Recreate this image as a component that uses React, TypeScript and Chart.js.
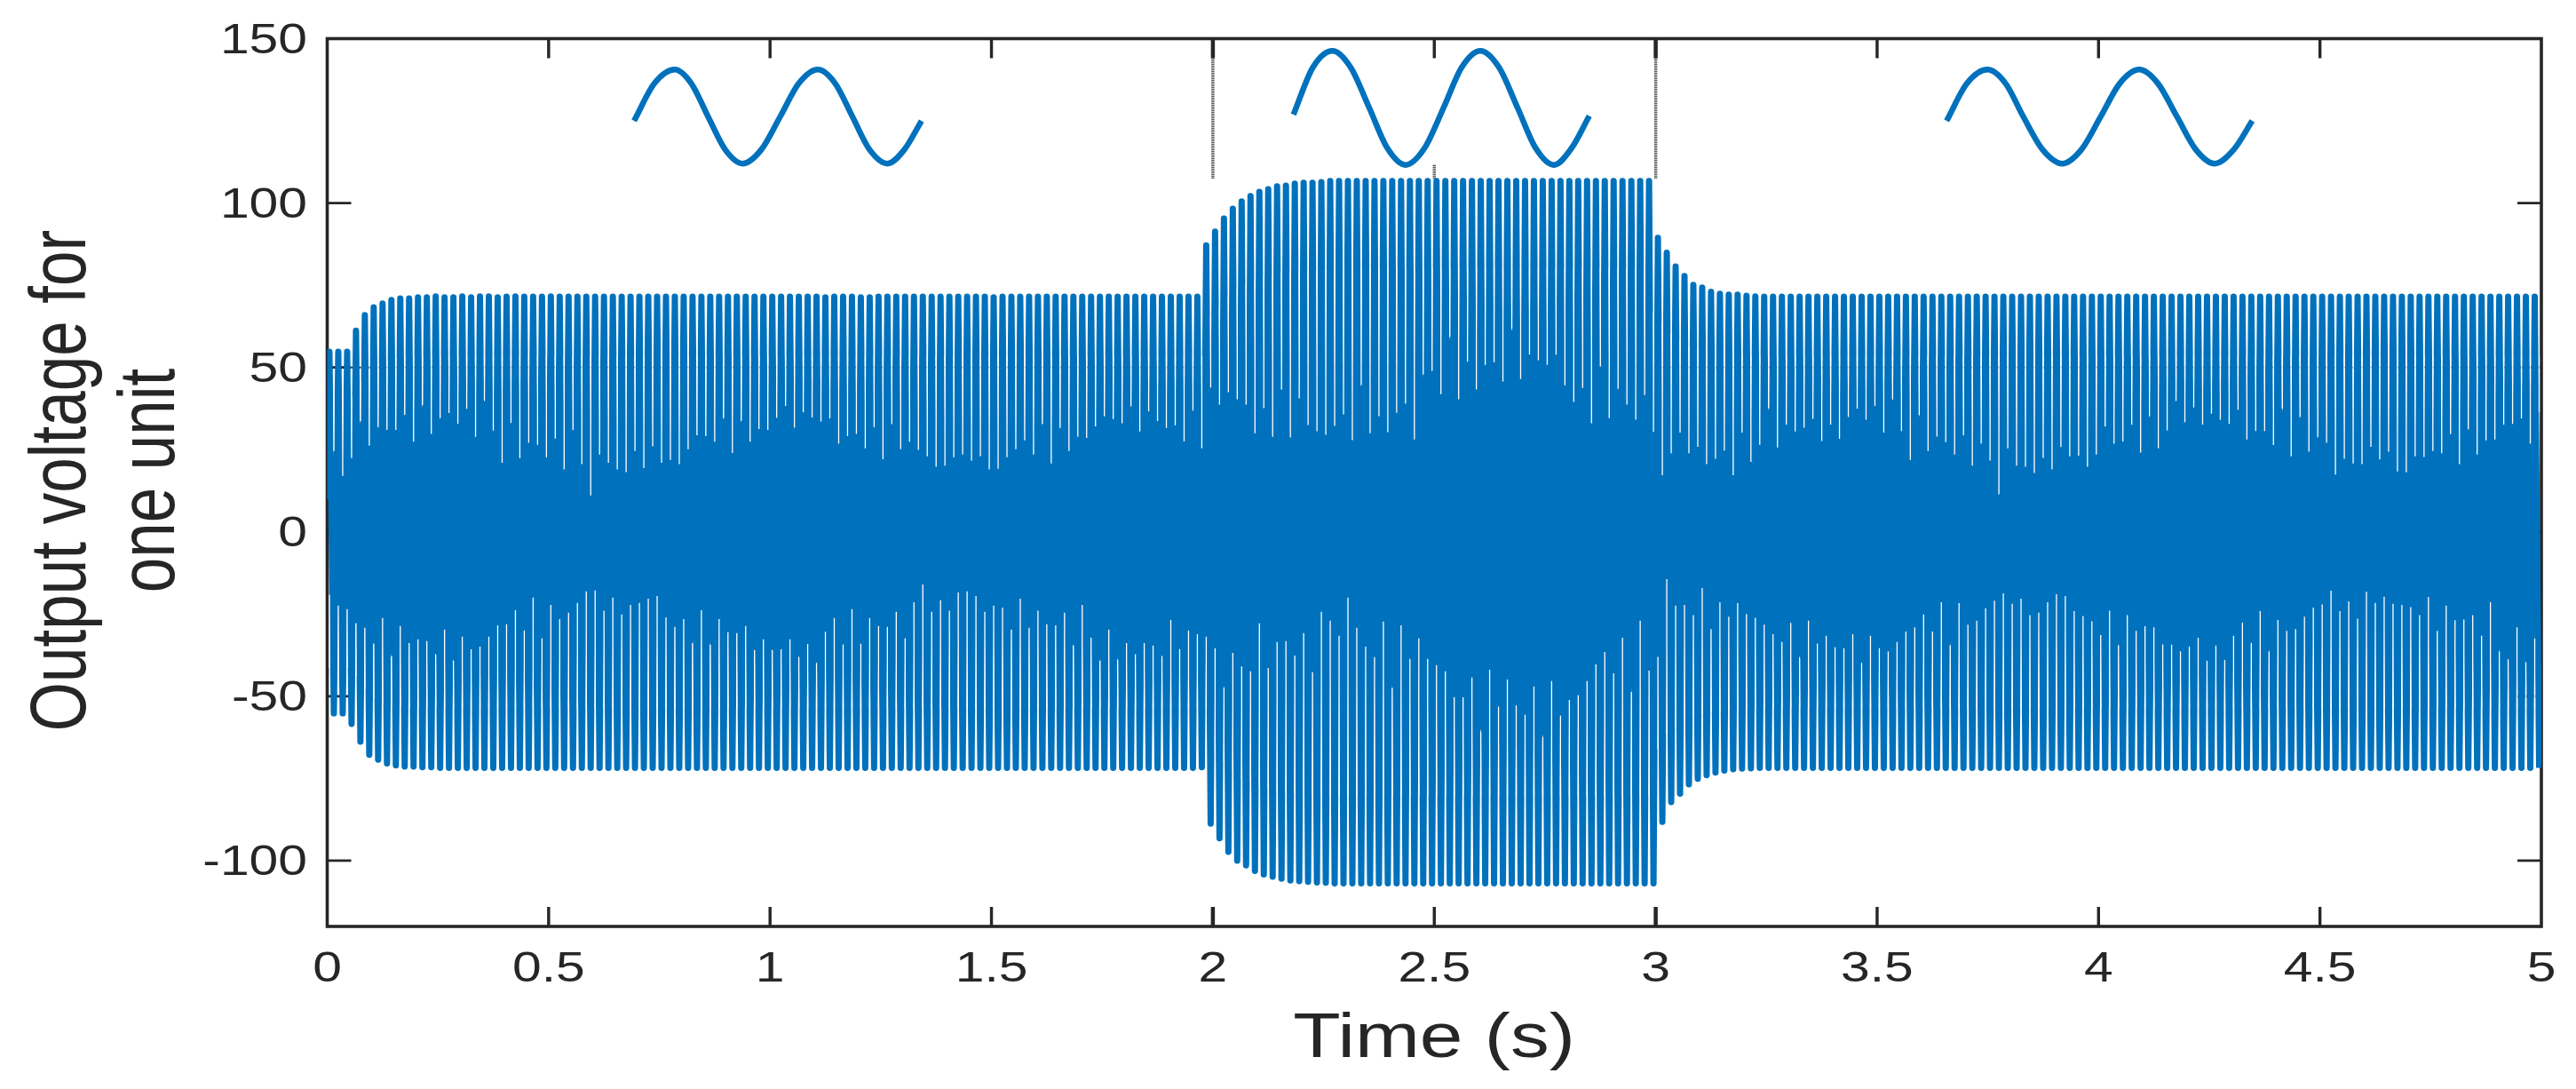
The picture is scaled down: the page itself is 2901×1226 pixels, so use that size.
import { Chart, registerables, Plugin } from 'chart.js'
import React, { useEffect, useRef } from 'react'

Chart.register(...registerables)

// tick positions and labels
const xTicks = [0, 0.5, 1, 1.5, 2, 2.5, 3, 3.5, 4, 4.5, 5]
const xTickLabels = ['0', '0.5', '1', '1.5', '2', '2.5', '3', '3.5', '4', '4.5', '5']
const yTicks = [150, 100, 50, 0, -50, -100]
const yTickLabels = ['150', '100', '50', '0', '-50', '-100']
const xTitle = 'Time (s)'
const yTitleLines = ['Output voltage for', 'one unit']

// one value per 50 Hz cycle
const firstPeakTime = 0.005
const halfCycle = 0.01

const upperPeaks = [
  54.8, 54.8, 54.8, 61.2, 65.9, 68.3, 69.4, 70.5, 71, 71,
  71.3, 71.3, 71.6, 71.3, 71.3, 71.6, 71.3, 71.6, 71.6, 71.3,
  71.5, 71.6, 71.5, 71.5, 71.5, 71.6, 71.5, 71.5, 71.5, 71.5,
  71.5, 71.5, 71.5, 71.5, 71.5, 71.5, 71.5, 71.5, 71.5, 71.5,
  71.5, 71.5, 71.5, 71.5, 71.5, 71.5, 71.5, 71.5, 71.5, 71.5,
  71.5, 71.5, 71.5, 71.5, 71.5, 71.5, 71.3, 71.5, 71.5, 71.5,
  71.3, 71.3, 71.5, 71.5, 71.5, 71.5, 71.5, 71.5, 71.5, 71.5,
  71.5, 71.5, 71.5, 71.5, 71.5, 71.3, 71.5, 71.5, 71.5, 71.5,
  71.5, 71.5, 71.5, 71.5, 71.5, 71.5, 71.5, 71.5, 71.5, 71.5,
  71.5, 71.5, 71.5, 71.5, 71.5, 71.5, 71.5, 71.5, 71.5, 87.1,
  91.3, 95.3, 98.3, 100.5, 102.1, 103.4, 104.2, 105.1, 105.3, 105.9,
  106.2, 106.2, 106.4, 106.7, 106.7, 106.7, 106.7, 106.7, 106.7, 106.7,
  106.7, 106.7, 106.7, 106.7, 106.7, 106.7, 106.7, 106.7, 106.7, 106.7,
  106.7, 106.7, 106.7, 106.7, 106.7, 106.7, 106.7, 106.7, 106.7, 106.7,
  106.7, 106.7, 106.7, 106.7, 106.7, 106.7, 106.7, 106.7, 106.7, 106.7,
  89.4, 84.9, 80.7, 77.8, 75.1, 74.3, 73, 72.4, 72.1, 72.1,
  71.8, 71.6, 71.5, 71.5, 71.5, 71.5, 71.5, 71.5, 71.5, 71.5,
  71.5, 71.5, 71.5, 71.5, 71.5, 71.5, 71.5, 71.5, 71.5, 71.5,
  71.5, 71.5, 71.5, 71.5, 71.5, 71.5, 71.5, 71.5, 71.5, 71.5,
  71.5, 71.5, 71.5, 71.5, 71.5, 71.5, 71.5, 71.5, 71.5, 71.5,
  71.5, 71.5, 71.5, 71.5, 71.5, 71.5, 71.5, 71.5, 71.5, 71.5,
  71.5, 71.5, 71.5, 71.5, 71.5, 71.5, 71.5, 71.5, 71.5, 71.5,
  71.5, 71.5, 71.5, 71.5, 71.5, 71.5, 71.5, 71.5, 71.5, 71.5,
  71.5, 71.5, 71.5, 71.5, 71.5, 71.5, 71.5, 71.5, 71.5, 71.5,
  71.5, 71.5, 71.5, 71.5, 71.5, 71.5, 71.5, 71.5, 71.5, 71.5,
]

const lowerPeaks = [
  -55.2, -55.2, -58.4, -63.8, -67.8, -69.3, -70.4, -71, -71.4, -71.4,
  -71.6, -71.6, -71.8, -71.8, -71.8, -71.8, -71.8, -71.8, -71.8, -71.8,
  -71.8, -71.8, -71.8, -71.8, -71.8, -71.8, -71.8, -71.8, -71.8, -71.8,
  -71.8, -71.8, -71.8, -71.8, -71.8, -71.8, -71.8, -71.8, -71.8, -71.8,
  -71.8, -71.8, -71.8, -71.8, -71.8, -71.8, -71.8, -71.8, -71.8, -71.8,
  -71.8, -71.8, -71.8, -71.8, -71.8, -71.8, -71.8, -71.8, -71.8, -71.8,
  -71.8, -71.8, -71.8, -71.8, -71.8, -71.8, -71.8, -71.8, -71.8, -71.8,
  -71.8, -71.8, -71.8, -71.8, -71.8, -71.8, -71.8, -71.8, -71.8, -71.8,
  -71.8, -71.8, -71.8, -71.8, -71.8, -71.8, -71.8, -71.8, -71.8, -71.8,
  -71.8, -71.8, -71.8, -71.8, -71.8, -71.8, -71.8, -71.8, -71.6, -88.7,
  -93.2, -97.3, -100, -101.4, -103.1, -104.2, -104.9, -105.5, -106, -106.2,
  -106.4, -106.6, -106.7, -106.9, -106.9, -106.9, -106.9, -106.9, -106.9, -106.9,
  -106.9, -106.9, -106.9, -106.9, -106.9, -106.9, -106.9, -106.9, -106.9, -106.9,
  -106.9, -106.9, -106.9, -106.9, -106.9, -106.9, -106.9, -106.9, -106.9, -106.9,
  -106.9, -106.9, -106.9, -106.9, -106.9, -106.9, -106.9, -106.9, -106.9, -106.9,
  -88.2, -82.2, -79.6, -76.8, -75.1, -74, -73.2, -72.6, -72.2, -72,
  -71.9, -71.8, -71.8, -71.8, -71.8, -71.8, -71.8, -71.8, -71.8, -71.8,
  -71.8, -71.8, -71.8, -71.8, -71.8, -71.8, -71.8, -71.8, -71.8, -71.8,
  -71.8, -71.8, -71.8, -71.8, -71.8, -71.8, -71.8, -71.8, -71.8, -71.8,
  -71.8, -71.8, -71.8, -71.8, -71.8, -71.8, -71.8, -71.8, -71.8, -71.8,
  -71.8, -71.8, -71.8, -71.8, -71.8, -71.8, -71.8, -71.8, -71.8, -71.8,
  -71.8, -71.8, -71.8, -71.8, -71.8, -71.8, -71.8, -71.8, -71.8, -71.8,
  -71.8, -71.8, -71.8, -71.8, -71.8, -71.8, -71.8, -71.8, -71.8, -71.8,
  -71.8, -71.8, -71.8, -71.8, -71.8, -71.8, -71.8, -71.8, -71.8, -71.8,
  -71.8, -71.8, -71.8, -71.8, -71.8, -71.8, -71.8, -71.8, -71.8, -71.8,
]

// where the waveform's inner edge sits between neighbouring peaks
const upperInner = [
  24.6, 17, 22.4, 33.7, 26.2, 31.9, 31, 31, 35.6, 27.4,
  38.6, 29.8, 34.6, 36.2, 32.8, 37.5, 28.9, 40, 30.8, 21,
  33.2, 22.4, 27.1, 26.5, 22.6, 28.4, 19, 31, 20.6, 11.1,
  23.5, 21, 19, 18.2, 24.6, 19.4, 26, 21, 21.9, 20.6,
  25.1, 29.4, 29.1, 27.4, 34.6, 24, 33.8, 27.4, 31.3, 31,
  34.7, 38.4, 31.7, 36.4, 34.8, 33.6, 34.6, 26.8, 29.1, 29.8,
  25.4, 31.9, 22.1, 32.8, 25.1, 27.4, 24.9, 23, 19.8, 20.1,
  22.7, 23.5, 21.7, 23, 19, 19.2, 22.7, 25.1, 27.8, 23.5,
  32.8, 20.8, 31.6, 24.6, 28.9, 28.6, 32.1, 35.2, 34.3, 33,
  38.2, 30.5, 36.7, 33.7, 31.6, 32.4, 27.5, 37, 25.4, 44,
  38.7, 42.5, 40.3, 38.7, 30, 37.6, 28.9, 43.3, 28.7, 40.6,
  32.5, 30.6, 29.5, 32.2, 35.7, 27.9, 44.6, 30, 35.2, 30.3,
  36.2, 39, 28.1, 47.9, 49, 41.9, 59.4, 40.3, 51.9, 43.3,
  50.8, 51.6, 45.7, 61.9, 46.5, 54, 52.2, 50.8, 54, 44.6,
  39.5, 43.8, 33, 50.3, 34.6, 43.5, 38.7, 34.1, 41.6, 30.4,
  17.2, 23.9, 30.2, 23.9, 25.9, 20.6, 22.2, 24.7, 17.2, 30.2,
  21.3, 26.5, 37.6, 25.7, 32.6, 30.5, 31.7, 34.4, 27.6, 32.6,
  28.3, 35, 37.5, 34.1, 38.4, 30.2, 40.4, 30.7, 21.9, 35.5,
  24.6, 29, 27.3, 23.5, 29.4, 20.1, 26.8, 21.7, 11.4, 25.4,
  20.1, 19.8, 17.9, 22.5, 19, 25.8, 23, 23.2, 19.8, 23.5,
  32.1, 26.8, 27.5, 32.6, 24.1, 35.2, 25.4, 30.9, 39.9, 33.4,
  37.9, 32.6, 36, 34.1, 32.8, 37.2, 28.1, 30.7, 30.7, 26.4,
  37.5, 23, 35, 24.4, 28.8, 27.1, 17.4, 22.2, 20.8, 20.6,
  25.9, 22, 24.4, 18.4, 18.1, 23, 22.8, 24.6, 23.9, 29.7,
  20.6, 31.2, 23.5, 27.8, 28.1, 32.6, 32.8, 34.5, 26.8, 36.5,
]

const lowerInner = [
  -19.2, -22.4, -23.5, -27.8, -29.2, -34, -26.2, -37.9, -28.6, -33.8,
  -32.7, -33.2, -37.3, -29.7, -39.2, -31.9, -35.7, -34.9, -31.9, -28.4,
  -28.1, -23.8, -30, -20, -32.4, -22.2, -26.5, -24.6, -21.6, -18.1,
  -17.8, -24, -20, -25.1, -22.2, -21.6, -20.3, -19.5, -26, -28.9,
  -26.5, -33.8, -23.8, -34.3, -26.5, -30.5, -30.8, -28.6, -36, -32.7,
  -35.9, -35.7, -32.7, -38.1, -34.1, -40, -30.4, -26.2, -34.3, -23.5,
  -34.1, -26.2, -28.6, -28.9, -24.3, -32.4, -21.4, -16, -24.3, -20.8,
  -24, -18.4, -18.1, -19.5, -24.3, -22.4, -23, -29.7, -20.3, -29.2,
  -24, -28.1, -28.4, -24.6, -34.6, -22.2, -32.2, -39.2, -29.7, -38.9,
  -33.8, -37.3, -33.8, -34.6, -37.8, -26.8, -35.7, -30, -31.1, -31.9,
  -35.4, -47.4, -36.8, -40.9, -42.4, -27.8, -41.4, -33.5, -33.2, -37.6,
  -30.8, -42.7, -24.3, -27, -31.6, -20, -29.2, -34.9, -38.1, -27.3,
  -47.4, -28.4, -38.6, -32.4, -38.6, -40.5, -42.4, -50.3, -50.3, -44.3,
  -60.8, -41.9, -53.2, -44.9, -52.8, -55.7, -47, -62.5, -45.4, -56,
  -51.1, -49.7, -45.4, -40.3, -36.5, -43, -32.2, -48.7, -27, -42.2,
  -38, -14.4, -22.4, -22.2, -25.3, -17.1, -29.6, -21.4, -25.8, -21.7,
  -25, -26.1, -28.2, -31.1, -33.5, -27.7, -38.3, -27, -34, -31.6,
  -35.1, -35.4, -31.1, -40, -31.6, -35.4, -36.4, -33.5, -30.3, -29,
  -25.1, -30.3, -21.4, -34.5, -21.7, -28.2, -27, -23.2, -20.9, -18.7,
  -21.9, -20.3, -25.3, -24.6, -21.4, -19, -19.5, -24.1, -25.6, -27.2,
  -31.4, -24, -34.5, -25.3, -30.1, -28.7, -29, -34.2, -34.3, -36.4,
  -34.9, -32.2, -39.3, -34.6, -39.1, -31.6, -27.6, -33.8, -24.1, -36.4,
  -26.8, -30.1, -29.6, -25.8, -23, -22.1, -17.9, -24.1, -21.1, -26.4,
  -18.2, -21.6, -19.7, -21.9, -22.2, -22.9, -25.3, -19.8, -30.1, -22.4,
  -26.9, -26.7, -25.3, -31.6, -21.4, -36.4, -38.8, -29, -39.8, -32.5,
]

// the three small sine sketches above the trace
const sketchTimes = [
  [0.693, 0.739, 0.785, 0.822, 0.86, 0.899, 0.938, 0.98, 1.023, 1.065, 1.108, 1.147, 1.186, 1.225, 1.265, 1.303, 1.342],
  [2.182, 2.226, 2.27, 2.311, 2.353, 2.394, 2.435, 2.478, 2.521, 2.562, 2.604, 2.646, 2.688, 2.729, 2.77, 2.81, 2.85],
  [3.657, 3.703, 3.749, 3.79, 3.83, 3.874, 3.918, 3.961, 4.005, 4.048, 4.092, 4.134, 4.177, 4.22, 4.262, 4.305, 4.347],
]
const sketchValues = [
  [125, 136.4, 140.6, 136.4, 126.3, 116.2, 112, 116.2, 126.3, 136.4, 140.6, 136.4, 126.3, 116.2, 112, 116.2, 125],
  [126.9, 141.3, 146.3, 141.3, 129, 116.7, 111.6, 116.7, 129, 141.3, 146.3, 141.3, 129, 116.7, 111.6, 116.7, 126.5],
  [125, 136.4, 140.6, 136.4, 126.3, 116.2, 112, 116.2, 126.3, 136.4, 140.6, 136.4, 126.3, 116.2, 112, 116.2, 125],
]

// thin leftover lines: the one at 50 V and the drop lines from the top axis
const refLevel = 50
const dropTimes = [2, 2.5, 3]
const dropTops = [144, 111.6, 144]
const dropBottoms = [107.3, 107.3, 107.3]

const BLUE = '#0071bc'
const INK = '#262626'

type Pt = { x: number; y: number | null }

const buildTrace = () => {
  const pts: Pt[] = [{ x: 0, y: 10 }]
  upperPeaks.forEach((v, i) => {
    const t = firstPeakTime + i * 2 * halfCycle
    pts.push({ x: t, y: v })
    pts.push({ x: t + halfCycle, y: lowerPeaks[i] })
  })
  return pts
}

// the hairline gaps between cycles run down to the inner edge; the stroke alone closes them too early
const buildSlits = () => {
  const pts: Pt[] = []
  upperInner.forEach((v, i) => {
    const t = firstPeakTime + halfCycle + i * 2 * halfCycle
    const top = 0.75 * Math.min(upperPeaks[i], upperPeaks[i + 1] ?? upperPeaks[i])
    if (v < top) pts.push({ x: t, y: top }, { x: t, y: v }, { x: t, y: null })
  })
  lowerInner.forEach((v, i) => {
    const t = firstPeakTime + i * 2 * halfCycle
    const bottom = 0.75 * Math.max(lowerPeaks[i], lowerPeaks[i - 1] ?? lowerPeaks[i])
    if (v > bottom) pts.push({ x: t, y: bottom }, { x: t, y: v }, { x: t, y: null })
  })
  return pts
}

const stretchedText = (
  ctx: CanvasRenderingContext2D,
  text: string,
  x: number,
  y: number,
  align: CanvasTextAlign,
  sx: number
) => {
  ctx.save()
  ctx.translate(x, y)
  ctx.scale(sx, 1)
  ctx.textAlign = align
  ctx.fillText(text, 0, 0)
  ctx.restore()
}

// the reference is a MATLAB figure: inward ticks on all four sides, wide lettering
const axesPlugin: Plugin<'line'> = {
  id: 'matlabAxes',
  beforeDatasetsDraw(chart) {
    const { ctx, chartArea: a, scales } = chart
    ctx.save()
    ctx.strokeStyle = INK
    ctx.lineWidth = 3.6
    ctx.strokeRect(a.left, a.top, a.right - a.left, a.bottom - a.top)
    xTicks.slice(1, -1).forEach((t) => {
      const x = scales.x.getPixelForValue(t)
      ctx.lineWidth = t === 2 || t === 3 ? 4.5 : 3.4
      ctx.beginPath()
      ctx.moveTo(x, a.top)
      ctx.lineTo(x, a.top + 22)
      ctx.moveTo(x, a.bottom)
      ctx.lineTo(x, a.bottom - 22)
      ctx.stroke()
    })
    ctx.lineWidth = 2.8
    yTicks.slice(1).forEach((v) => {
      const y = scales.y.getPixelForValue(v)
      ctx.beginPath()
      ctx.moveTo(a.left, y)
      ctx.lineTo(a.left + 27, y)
      ctx.moveTo(a.right, y)
      ctx.lineTo(a.right - 27, y)
      ctx.stroke()
    })
    ctx.restore()
  },
  afterDatasetsDraw(chart) {
    const { ctx, scales } = chart
    ctx.save()
    ctx.fillStyle = INK
    ctx.font = '49px "Liberation Sans"'
    ctx.textBaseline = 'middle'
    yTicks.forEach((v, i) => {
      stretchedText(ctx, yTickLabels[i], 346, scales.y.getPixelForValue(v) + 3, 'right', 1.2)
    })
    xTicks.forEach((t, i) => {
      stretchedText(ctx, xTickLabels[i], scales.x.getPixelForValue(t), 1091, 'center', 1.2)
    })
    ctx.font = '70px "Liberation Sans"'
    ctx.textBaseline = 'alphabetic'
    stretchedText(ctx, xTitle, 1615, 1190, 'center', 1.25)
    ctx.font = '71px "Liberation Sans"'
    ;[96, 196].forEach((x, i) => {
      ctx.save()
      ctx.translate(x, 541)
      ctx.scale(1.25, 1)
      ctx.rotate(-Math.PI / 2)
      ctx.textAlign = 'center'
      ctx.fillText(yTitleLines[i], 0, 0)
      ctx.restore()
    })
    ctx.restore()
  },
}

const App: React.FC = () => {
  const chartRef = useRef<HTMLCanvasElement>(null)

  useEffect(() => {
    if (!chartRef.current) return
    const line = { pointRadius: 0, tension: 0, fill: false }
    const dropData = dropTimes.flatMap((t, i) => [
      { x: t, y: dropTops[i] },
      { x: t, y: dropBottoms[i] },
      { x: t, y: null },
    ])
    const chart = new Chart(chartRef.current, {
      type: 'line',
      data: {
        datasets: [
          ...sketchTimes.map((ts, i) => ({
            ...line,
            data: ts.map((t, j) => ({ x: t, y: sketchValues[i][j] })),
            borderColor: BLUE,
            borderWidth: 6.5,
            borderJoinStyle: 'round' as const,
            cubicInterpolationMode: 'monotone' as const,
          })),
          {
            ...line,
            data: buildSlits(),
            borderColor: '#ffffff',
            borderWidth: 1.3,
            spanGaps: false,
          },
          {
            ...line,
            label: 'Output voltage',
            data: buildTrace(),
            borderColor: BLUE,
            borderWidth: 7,
            borderJoinStyle: 'round' as const,
          },
          {
            ...line,
            data: upperInner.map((v, i) => ({ x: firstPeakTime + halfCycle + i * 2 * halfCycle, y: v })),
            borderWidth: 0,
            backgroundColor: BLUE,
            fill: '+1',
          },
          {
            ...line,
            data: lowerInner.map((v, i) => ({ x: firstPeakTime + i * 2 * halfCycle, y: v })),
            borderWidth: 0,
          },
          {
            ...line,
            data: dropData,
            borderColor: INK,
            borderWidth: 3.5,
            borderDash: [1, 1],
            spanGaps: false,
          },
          {
            ...line,
            data: [
              { x: 0, y: refLevel },
              { x: 5, y: refLevel },
            ],
            borderColor: INK,
            borderWidth: 2,
            borderDash: [2, 1],
          },
        ],
      },
      options: {
        responsive: false,
        animation: false,
        devicePixelRatio: 1,
        events: [],
        parsing: false,
        layout: { padding: { left: 368.5, right: 39, top: 43.5, bottom: 183 } },
        plugins: { legend: { display: false }, tooltip: { enabled: false } },
        scales: {
          x: { type: 'linear', display: false, min: 0, max: 5 },
          y: { type: 'linear', display: false, min: -120, max: 150 },
        },
      },
      plugins: [axesPlugin],
    })
    return () => chart.destroy()
  }, [])

  return (
    <div style={{ position: 'absolute', left: 0, top: 0, width: 2901, height: 1226 }}>
      <canvas ref={chartRef} width={2901} height={1226} style={{ display: 'block', width: 2901, height: 1226 }} />
    </div>
  )
}

export default App
